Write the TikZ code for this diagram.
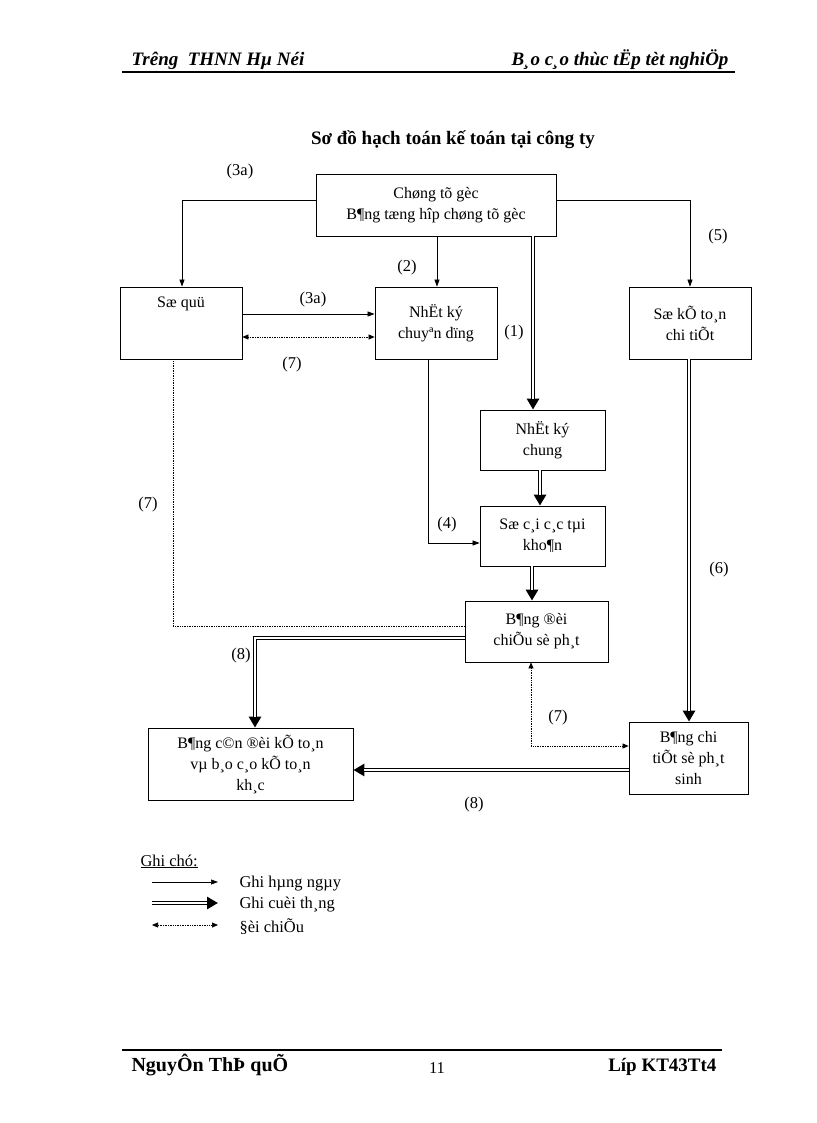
\documentclass[tikz,border=0pt]{standalone}
\usepackage{fontspec}
\setmainfont{Liberation Serif}
\usetikzlibrary{arrows.meta}
\begin{document}
\begin{tikzpicture}[x=1pt,y=-1pt,
  box/.style={draw,line width=0.8pt,align=center,font=\fontsize{16}{21}\selectfont},
  lbl/.style={font=\fontsize{16.5}{20}\selectfont},
  sol/.style={line width=0.7pt,-{Triangle[length=7pt,width=5pt]}},
  dbl/.style={line width=4pt,-{Triangle[length=11pt,width=12pt]},
     postaction={draw=white,line width=1.6pt,shorten >=11pt,-}},
  dot/.style={densely dotted,line width=0.7pt,{Triangle[length=6pt,width=5pt]}-{Triangle[length=6pt,width=5pt]}},
  dotl/.style={densely dotted,line width=0.7pt}]
\useasboundingbox (0,0) rectangle (816,1123);
% header
\node[anchor=base west,font=\fontsize{19}{22}\selectfont\bfseries\itshape] (h1) at (128,66) {Trêng\ \ THNN Hµ Néi};
\node[anchor=base east,font=\fontsize{19}{22}\selectfont\bfseries\itshape] (h2) at (732,66) {B¸o c¸o thùc tËp tèt nghiÖp};
\draw[line width=1.5pt] (122,72) -- (735,72);
\node[font=\fontsize{19}{22}\selectfont\bfseries] (title) at (453,140) {Sơ đồ hạch toán kế toán tại công ty};
% boxes
\node[box,minimum width=240pt,minimum height=62pt] (top) at (436,205) {Chøng tõ gèc\\B¶ng tæng hîp chøng tõ gèc};
\node[box,minimum width=122pt,minimum height=72pt] (sq) at (181,323) {};
\node[lbl,font=\fontsize{16}{21}\selectfont] at (181,304) {Sæ quü};
\node[box,minimum width=122pt,minimum height=72pt] (nkcd) at (436,323) {NhËt ký\\chuyªn dïng};
\node[box,minimum width=122pt,minimum height=72pt] (skt) at (690,323) {Sæ kÕ to¸n\\chi tiÕt};
\node[box,minimum width=125pt,minimum height=60pt] (nkc) at (542.5,440) {NhËt ký\\chung};
\node[box,minimum width=125pt,minimum height=60pt] (sc) at (542.5,536) {Sæ c¸i c¸c tµi\\kho¶n};
\node[box,minimum width=143pt,minimum height=61pt] (bdc) at (536.5,631.5) {B¶ng ®èi\\chiÕu sè ph¸t};
\node[box,minimum width=205pt,minimum height=72pt] (bcd) at (250.5,764) {B¶ng c©n ®èi kÕ to¸n\\vµ b¸o c¸o kÕ to¸n\\kh¸c};
\node[box,minimum width=119pt,minimum height=72pt] (bct) at (688.5,758) {B¶ng chi\\tiÕt sè ph¸t\\sinh};
% connectors
\coordinate (c1) at (182,200); \coordinate (c2) at (690,200);
\draw[sol] (top.west |- c1) -- (c1) -- (sq.north -| c1);
\draw[sol] (top.east |- c2) -- (c2) -- (skt.north -| c2);
\draw[sol] (top.south -| 437,0) -- (nkcd.north -| 437,0);
\draw[dbl] (top.south -| 533,0) -- (nkc.north -| 533,0);
\draw[sol] (sq.east |- 0,314) -- (nkcd.west |- 0,314);
\draw[dot] (sq.east |- 0,337) -- (nkcd.west |- 0,337);
\coordinate (c4) at (428,543);
\draw[sol] (nkcd.south -| c4) -- (c4) -- (sc.west |- c4);
\draw[dbl] (nkc.south -| 540,0) -- (sc.north -| 540,0);
\draw[dbl] (sc.south -| 532,0) -- (bdc.north -| 532,0);
\coordinate (c7) at (173,626);
\draw[dotl] (sq.south -| c7) -- (c7) -- (bdc.west |- c7);
\coordinate (c8) at (255,638);
\draw[dbl] (bdc.west |- c8) -- (c8) -- (bcd.north -| c8);
\draw[dbl] (skt.south -| 689,0) -- (bct.north -| 689,0);
\coordinate (c9) at (531,746);
\draw[dot] (bdc.south -| c9) -- (c9) -- (bct.west |- c9);
\draw[dbl] (bct.west |- 0,770) -- (bcd.east |- 0,770);
% labels
\node[lbl] (l1) at (240,172) {(3a)};
\node[lbl] (l2) at (718,237) {(5)};
\node[lbl] (l3) at (407,268) {(2)};
\node[lbl] (l4) at (514,333) {(1)};
\node[lbl] (l5) at (313,300) {(3a)};
\node[lbl] (l6) at (292,365) {(7)};
\node[lbl] (l7) at (447,525) {(4)};
\node[lbl] (l8) at (148,505) {(7)};
\node[lbl] (l9) at (241,656) {(8)};
\node[lbl] (l10) at (719,570) {(6)};
\node[lbl] (l11) at (558,718) {(7)};
\node[lbl] (l12) at (474,805) {(8)};
% legend
\node[lbl,anchor=base west] (g0) at (137,866) {\underline{Ghi chó:}};
\coordinate (a1) at (152,882); \coordinate (b1) at (218,882);
\coordinate (a2) at (152,903); \coordinate (b2) at (218,903);
\coordinate (a3) at (152,925); \coordinate (b3) at (218,925);
\draw[sol] (a1) -- (b1);
\draw[dbl] (a2) -- (b2);
\draw[dot] (a3) -- (b3);
\node[lbl,anchor=west] (g1) at (236,884) {Ghi hµng ngµy};
\node[lbl,anchor=west] (g2) at (236,905) {Ghi cuèi th¸ng};
\node[lbl,anchor=west] (g3) at (236,927) {§èi chiÕu};
% footer
\draw[line width=1.5pt] (122,1050) -- (722,1050);
\node[anchor=base west,font=\fontsize{20}{22}\selectfont\bfseries] (f1) at (128,1071) {NguyÔn ThÞ quÕ};
\node[anchor=base,lbl] (f2) at (437,1073) {11};
\node[anchor=base east,font=\fontsize{19}{22}\selectfont\bfseries] (f3) at (720,1071) {Líp KT43Tt4};
\end{tikzpicture}
\end{document}
